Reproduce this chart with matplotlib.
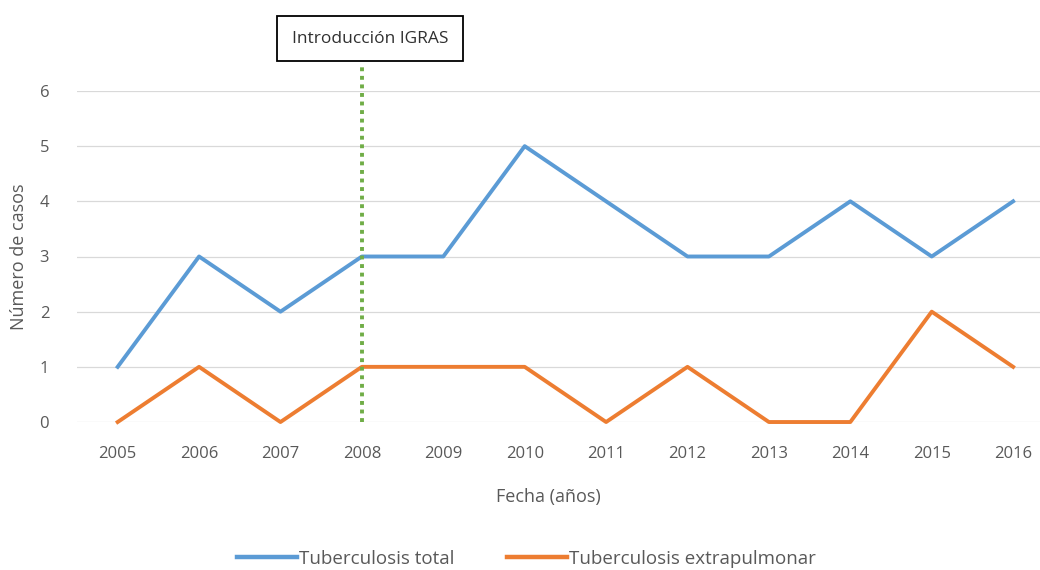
import matplotlib.pyplot as plt
from matplotlib.lines import Line2D

years = [2005, 2006, 2007, 2008, 2009, 2010, 2011, 2012, 2013, 2014, 2015, 2016]
tb_total = [1, 3, 2, 3, 3, 5, 4, 3, 3, 4, 3, 4]
tb_extra = [0, 1, 0, 1, 1, 1, 0, 1, 0, 0, 2, 1]
igras_year = 2008

plt.rcParams['font.family'] = ['Open Sans', 'DejaVu Sans']
grey = '#595959'
blue = '#5B9BD5'
orange = '#ED7D31'

fig = plt.figure(figsize=(10.4, 5.7), dpi=100)
ax = fig.add_axes([0.074, 0.2596, 0.926, 0.5808])

ax.plot(years, tb_total, color=blue, lw=2.8, clip_on=False, solid_joinstyle='round')
ax.plot(years, tb_extra, color=orange, lw=2.8, clip_on=False, solid_joinstyle='round')

ax.set_xlim(2004.5, 2016.33)
ax.set_ylim(0, 6)
ax.set_xticks(years)
ax.set_yticks(range(7))
ax.grid(axis='y', color='#d9d9d9', lw=0.9)
ax.set_axisbelow(True)
for s in ax.spines.values():
    s.set_visible(False)
ax.tick_params(length=0, labelsize=12, labelcolor=grey)
ax.tick_params(axis='x', pad=17)
ax.tick_params(axis='y', pad=20)

ax.set_xlabel('Fecha (años)', fontsize=13, color=grey, labelpad=12)
ax.xaxis.set_label_coords(0.49, -0.2)
ax.set_ylabel('Número de casos', fontsize=13, color=grey, labelpad=8)

# vertical marker for the IGRAS introduction
ax.plot([igras_year, igras_year], [0, 6.45], color='#70AD47', lw=2.8,
        ls=(0, (1, 1.2)), clip_on=False, zorder=3)
ax.text(igras_year + 0.1, 6.95, 'Introducción IGRAS', ha='center', va='center',
        fontsize=12.5, color='#303030',
        bbox=dict(boxstyle='square,pad=0.85', fc='white', ec='black', lw=1.3))

handles = [Line2D([], [], color=blue, lw=3.2), Line2D([], [], color=orange, lw=3.2)]
fig.legend(handles, ['Tuberculosis total', 'Tuberculosis extrapulmonar'],
           loc='center', bbox_to_anchor=(0.506, 0.02), ncol=2, frameon=False,
           fontsize=13.5, labelcolor=grey, handlelength=3.2, handletextpad=0.1,
           columnspacing=2.8)

fig.savefig('out.png', dpi=100)
